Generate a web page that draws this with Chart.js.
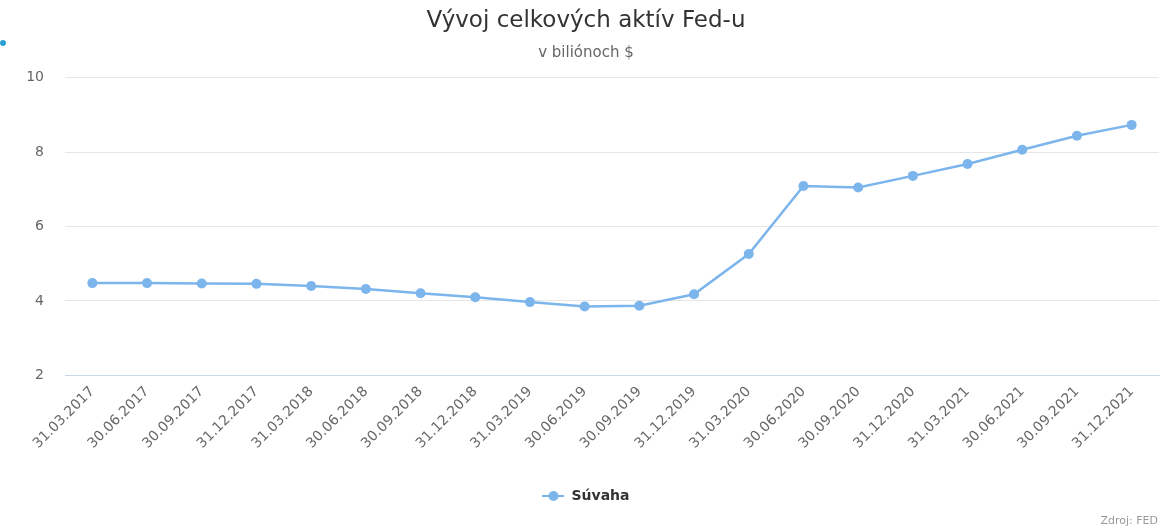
<!DOCTYPE html>
<html>
<head>
<meta charset="utf-8">
<script src="https://cdn.jsdelivr.net/npm/chart.js@4"></script>
<style>
  html, body { margin: 0; padding: 0; background: #fff; }
  #wrap { position: relative; width: 1172px; height: 532px; }
  #dot { position: absolute; left: 0; top: 40px; width: 6px; height: 6px; border-radius: 3px; background: #2b9fd8; }
</style>
</head>
<body>
<div id="wrap">
  <div id="dot"></div>
  <canvas id="myChart" width="1172" height="532"></canvas>
</div>
<script>
var labels = ['31.03.2017', '30.06.2017', '30.09.2017', '31.12.2017', '31.03.2018', '30.06.2018',
    '30.09.2018', '31.12.2018', '31.03.2019', '30.06.2019', '30.09.2019', '31.12.2019',
    '31.03.2020', '30.06.2020', '30.09.2020', '31.12.2020', '31.03.2021', '30.06.2021',
    '30.09.2021', '31.12.2021'];
var suvaha = [4.48, 4.48, 4.47, 4.46, 4.40, 4.32, 4.21, 4.10, 3.97, 3.85,
    3.87, 4.18, 5.26, 7.09, 7.05, 7.36, 7.68, 8.06, 8.44, 8.73];
var yTicks = [2, 4, 6, 8, 10];

var font = '"DejaVu Sans", Verdana, sans-serif';
var blue = '#7cb5ec';

// legend symbol: line with a dot, like the original
var sym = document.createElement('canvas');
sym.width = 22; sym.height = 12;
var sc = sym.getContext('2d');
sc.strokeStyle = blue; sc.lineWidth = 2;
sc.beginPath(); sc.moveTo(0, 6); sc.lineTo(22, 6); sc.stroke();
sc.fillStyle = blue;
sc.beginPath(); sc.arc(11, 6, 5, 0, Math.PI * 2); sc.fill();

var credits = {
    id: 'credits',
    afterDraw: function (chart) {
        var c = chart.ctx;
        c.save();
        c.font = '11px ' + font;
        c.fillStyle = '#999999';
        c.textAlign = 'right';
        c.textBaseline = 'middle';
        c.fillText('Zdroj: FED', 1158, 521);
        c.restore();
    }
};

var ctx = document.getElementById('myChart');
var myChart = new Chart(ctx, {
    type: 'line',
    data: {
        labels: labels,
        datasets: [{
            label: 'Súvaha',
            data: suvaha,
            borderColor: blue,
            backgroundColor: blue,
            borderWidth: 2.5,
            pointRadius: 5,
            pointBorderWidth: 0,
            pointBackgroundColor: blue,
            tension: 0
        }]
    },
    options: {
        responsive: false,
        animation: false,
        layout: { padding: { top: 7, right: 0, bottom: 19, left: 0 } },
        plugins: {
            title: {
                display: true,
                text: 'Vývoj celkových aktív Fed-u',
                color: '#333333',
                font: { family: font, size: 23, weight: 'normal' },
                padding: { top: 0, bottom: 10 }
            },
            subtitle: {
                display: true,
                text: 'v biliónoch $',
                color: '#666666',
                font: { family: font, size: 15, weight: 'normal' },
                padding: { top: 0, bottom: 15 }
            },
            legend: {
                position: 'bottom',
                labels: {
                    usePointStyle: true,
                    pointStyleWidth: 22,
                    color: '#333333',
                    font: { family: font, size: 14, weight: 'bold' },
                    padding: 10,
                    generateLabels: function (chart) {
                        var items = Chart.defaults.plugins.legend.labels.generateLabels(chart);
                        items.forEach(function (it) { it.pointStyle = sym; });
                        return items;
                    }
                }
            },
            tooltip: { enabled: false }
        },
        scales: {
            x: {
                offset: true,
                grid: { display: false, drawTicks: false },
                border: { display: true, color: '#ccd6eb', width: 1, z: 1 },
                afterFit: function (axis) { axis.height += 19; },
                ticks: {
                    color: '#666666',
                    font: { family: font, size: 14 },
                    maxRotation: 45,
                    minRotation: 45,
                    autoSkip: false,
                    padding: 8
                }
            },
            y: {
                min: 2,
                max: 10,
                afterBuildTicks: function (axis) {
                    axis.ticks = yTicks.map(function (v) { return { value: v }; });
                },
                afterFit: function (axis) { axis.width = 65; },
                grid: {
                    color: function (c) { return c.tick && c.tick.value === 2 ? 'rgba(0,0,0,0)' : '#e6e6e6'; },
                    drawTicks: false
                },
                border: { display: false },
                ticks: {
                    color: '#666666',
                    font: { family: font, size: 14 },
                    padding: 21
                }
            },
            // empty right-hand strip so the plot ends where the original does
            yRight: {
                position: 'right',
                display: true,
                grid: { display: false, drawTicks: false },
                border: { display: false },
                ticks: { display: false },
                afterFit: function (axis) { axis.width = 13; }
            }
        }
    },
    plugins: [credits]
});

window.chart = myChart;
</script>
</body>
</html>
